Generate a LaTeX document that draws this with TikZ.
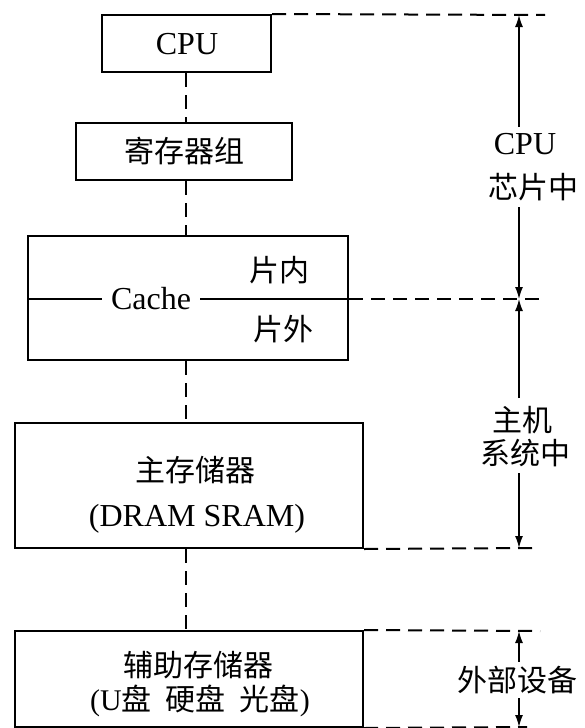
\documentclass[tikz,border=0pt]{standalone}
\usepackage{fontspec}
\setmainfont{Liberation Serif}
\newfontfamily\cjk{Noto Sans CJK SC}
\usetikzlibrary{arrows.meta}
\newcommand{\zhc}[1]{{\cjk #1}}
\begin{document}
\begin{tikzpicture}[x=1pt,y=-1pt,
  box/.style={draw, line width=2pt, inner sep=0pt},
  dsh/.style={line width=2pt, dash pattern=on 14pt off 8pt},
  sol/.style={line width=2pt},
  lat/.style={font=\fontsize{32}{38}\selectfont, inner sep=0pt},
  zh/.style={font=\cjk\fontsize{30}{36}\selectfont, inner sep=0pt},
  arr/.style={line width=1.4pt, -{Latex[length=12pt,width=8pt]}}]
\useasboundingbox (0,0) rectangle (584,728);

% boxes
\node[box, minimum width=169pt, minimum height=57pt] (cpu) at (186.5,43.5) {};
\node[box, minimum width=216pt, minimum height=57pt] (reg) at (184,151.5) {};
\node[box, minimum width=320pt, minimum height=124pt] (cache) at (188,298) {};
\node[box, minimum width=348pt, minimum height=125pt] (main) at (189,485.5) {};
\node[box, minimum width=348pt, minimum height=96pt] (aux) at (189,679) {};

% texts in boxes
\node[lat] (cputxt) at (187,44) {CPU};
\node[zh] (regtxt) at (184,151) {寄存器组};
\node[lat, inner xsep=9pt] (cachetxt) at (151,299) {Cache};
\node[zh] (pn) at (279,270) {片内};
\node[zh] (pw) at (283,329) {片外};
\node[zh] (maintxt) at (195,470) {主存储器};
\node[lat] (mainsub) at (197,519) {(DRAM SRAM)};
\node[zh] (auxtxt) at (198,665) {辅助存储器};
\node[lat, font=\fontsize{30}{36}\selectfont] (auxsub) at (200,701) {(U\zhc{盘}\hspace{14pt}\zhc{硬盘}\hspace{14pt}\zhc{光盘})};

% vertical dashed connectors
\coordinate (vx) at (186,0);
\draw[dsh] (vx |- cpu.south) -- (vx |- reg.north);
\draw[dsh] (vx |- reg.south) -- (vx |- cache.north);
\draw[dsh] (vx |- cache.south) -- (vx |- main.north);
\draw[dsh] (vx |- main.south) -- (vx |- aux.north);

% cache divider line
\coordinate (cl) at (0,299);
\draw[sol] (cache.west |- cl) -- (cachetxt.west);
\draw[sol] (cachetxt.east) -- (cache.east |- cl);

% right dashed level lines
\coordinate (e1) at (545,15);
\coordinate (e2) at (545,299);
\coordinate (e3) at (537,548);
\coordinate (e4) at (540,631);
\coordinate (e5) at (527,727);
\draw[dsh] (cpu.north east) -- (e1);
\draw[dsh] (cache.east |- cl) -- (e2);
\draw[dsh] (main.south east) -- (e3);
\draw[dsh] (aux.north east) -- (e4);
\draw[dsh] (aux.south east) -- (e5);

% right labels
\node[lat] (l1a) at (525,144) {CPU};
\node[zh] (l1b) at (533,187) {芯片中};
\node[zh] (l2a) at (522,420) {主机};
\node[zh] (l2b) at (525,453) {系统中};
\node[zh] (l3) at (517,680) {外部设备};

% arrows
\coordinate (ax) at (519,0);
\draw[arr] ([yshift=6pt]ax |- l1a.north) -- (ax |- e1);
\draw[arr] ([yshift=-6pt]ax |- l1b.south) -- (ax |- e2);
\draw[arr] ([yshift=8pt]ax |- l2a.north) -- (ax |- e2);
\draw[arr] ([yshift=-6pt]ax |- l2b.south) -- (ax |- e3);
\draw[arr] ([yshift=4pt]ax |- l3.north) -- (ax |- e4);
\draw[arr] ([yshift=-4pt]ax |- l3.south) -- (ax |- e5);
\end{tikzpicture}
\end{document}
